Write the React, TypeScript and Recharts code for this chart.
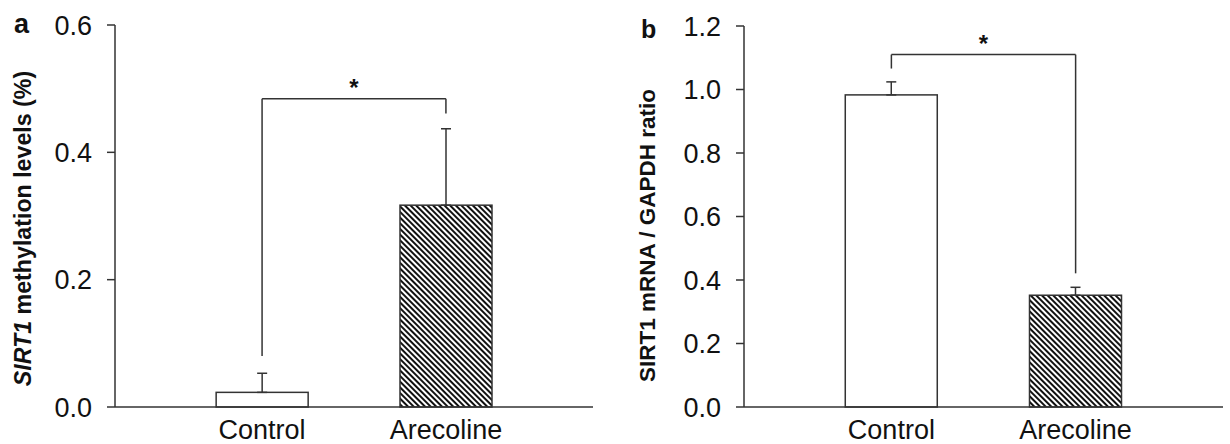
import React from 'react';
import { BarChart, Bar, XAxis, YAxis, ErrorBar, ReferenceLine } from 'recharts';

const categories = ['Control', 'Arecoline'];
const positions = [0, 1];
const methylation = [0.023, 0.317];
const methylationErr = [0.03, 0.12];
const mrna = [0.983, 0.352];
const mrnaErr = [0.041, 0.025];
const ticksA = [0, 0.2, 0.4, 0.6];
const ticksB = [0, 0.2, 0.4, 0.6, 0.8, 1.0, 1.2];
const bracketA = { left: 0.08, top: 0.484, right: 0.461 };
const bracketB = { left: 1.066, top: 1.11, right: 0.421 };

const dataA = categories.map((c, i) => ({
  name: c,
  x: positions[i],
  value: methylation[i],
  err: [0, methylationErr[i]],
}));
const dataB = categories.map((c, i) => ({
  name: c,
  x: positions[i],
  value: mrna[i],
  err: [0, mrnaErr[i]],
}));

const INK = '#333';
const FONT = 'Arial, "Liberation Sans", Helvetica, sans-serif';

const tickStyle = { fontSize: 27, fill: '#111', fontFamily: FONT };

function Panel({ data, ticks, domainMax, bracket, yWidth, marginTop, marginRight }: any) {
  return (
    <BarChart
      width={615}
      height={444}
      data={data}
      margin={{ top: marginTop, right: marginRight, bottom: 0, left: 0 }}
    >
      <XAxis
        dataKey="x"
        type="number"
        domain={[-0.8, 1.8]}
        ticks={positions}
        allowDataOverflow
        tickFormatter={(v: number) => categories[positions.indexOf(v)] ?? ''}
        tickLine={false}
        tickSize={0}
        tickMargin={13}
        height={37}
        axisLine={{ stroke: INK, strokeWidth: 1.5 }}
        tick={tickStyle}
      />
      <YAxis
        type="number"
        domain={[0, domainMax]}
        ticks={ticks}
        tickFormatter={(v: number) => v.toFixed(1)}
        width={yWidth}
        tickSize={8}
        tickMargin={15}
        axisLine={{ stroke: INK, strokeWidth: 1.5 }}
        tickLine={{ stroke: INK, strokeWidth: 1.5 }}
        tick={tickStyle}
        interval={0}
      />
      <Bar
        dataKey="value"
        barSize={92}
        isAnimationActive={false}
        stroke={INK}
        strokeWidth={1.5}
        shape={(p: any) => (
          <rect
            x={p.x}
            y={p.y}
            width={p.width}
            height={p.height}
            fill={p.payload.x === 1 ? 'url(#hatch)' : '#fff'}
            stroke={INK}
            strokeWidth={1.5}
          />
        )}
      >
        <ErrorBar dataKey="err" width={5} stroke={INK} strokeWidth={1.5} direction="y" />
      </Bar>
      <ReferenceLine
        segment={[{ x: 0, y: bracket.left }, { x: 0, y: bracket.top }]}
        stroke={INK}
        strokeWidth={1.5}
        ifOverflow="visible"
      />
      <ReferenceLine
        segment={[{ x: 0, y: bracket.top }, { x: 1, y: bracket.top }]}
        stroke={INK}
        strokeWidth={1.5}
        ifOverflow="visible"
        label={{ value: '*', position: 'top', offset: 3, fontSize: 24, fontWeight: 'bold', fill: '#111', fontFamily: FONT }}
      />
      <ReferenceLine
        segment={[{ x: 1, y: bracket.top }, { x: 1, y: bracket.right }]}
        stroke={INK}
        strokeWidth={1.5}
        ifOverflow="visible"
      />
    </BarChart>
  );
}

export default function App() {
  return (
    <div style={{ position: 'fixed', left: 0, top: 0, width: 1230, height: 444, background: '#fff', overflow: 'hidden' }}>
      <svg width={0} height={0} style={{ position: 'absolute' }}>
        <defs>
          <pattern id="hatch" width={4} height={4} patternUnits="userSpaceOnUse" patternTransform="rotate(-45)">
            <rect width={4} height={4} fill="#fff" />
            <line x1={1} y1={0} x2={1} y2={4} stroke="#111" strokeWidth={2} />
          </pattern>
        </defs>
      </svg>
      <div style={{ position: 'absolute', left: 0, top: 0 }}>
        <Panel data={dataA} ticks={ticksA} domainMax={0.6} bracket={bracketA} yWidth={115} marginTop={25} marginRight={22} />
      </div>
      <div style={{ position: 'absolute', left: 615, top: 0 }}>
        <Panel data={dataB} ticks={ticksB} domainMax={1.2} bracket={bracketB} yWidth={129} marginTop={26} marginRight={7} />
      </div>
      <svg width={1230} height={444} style={{ position: 'absolute', left: 0, top: 0, pointerEvents: 'none' }}>
        <text x={14} y={33} fontSize={27} fontWeight="bold" fontFamily={FONT} fill="#111">a</text>
        <text x={641} y={38} fontSize={25} fontWeight="bold" fontFamily={FONT} fill="#111">b</text>
        <text
          transform="translate(31,228.5) rotate(-90)"
          textAnchor="middle"
          fontSize={23.2}
          fontWeight="bold"
          fontFamily={FONT}
          fill="#111"
        >
          <tspan fontStyle="italic">SIRT1</tspan> methylation levels (%)
        </text>
        <text
          transform="translate(655,235.5) rotate(-90)"
          textAnchor="middle"
          fontSize={22.5}
          fontWeight="bold"
          fontFamily={FONT}
          fill="#111"
        >
          SIRT1 mRNA / GAPDH ratio
        </text>
      </svg>
    </div>
  );
}
